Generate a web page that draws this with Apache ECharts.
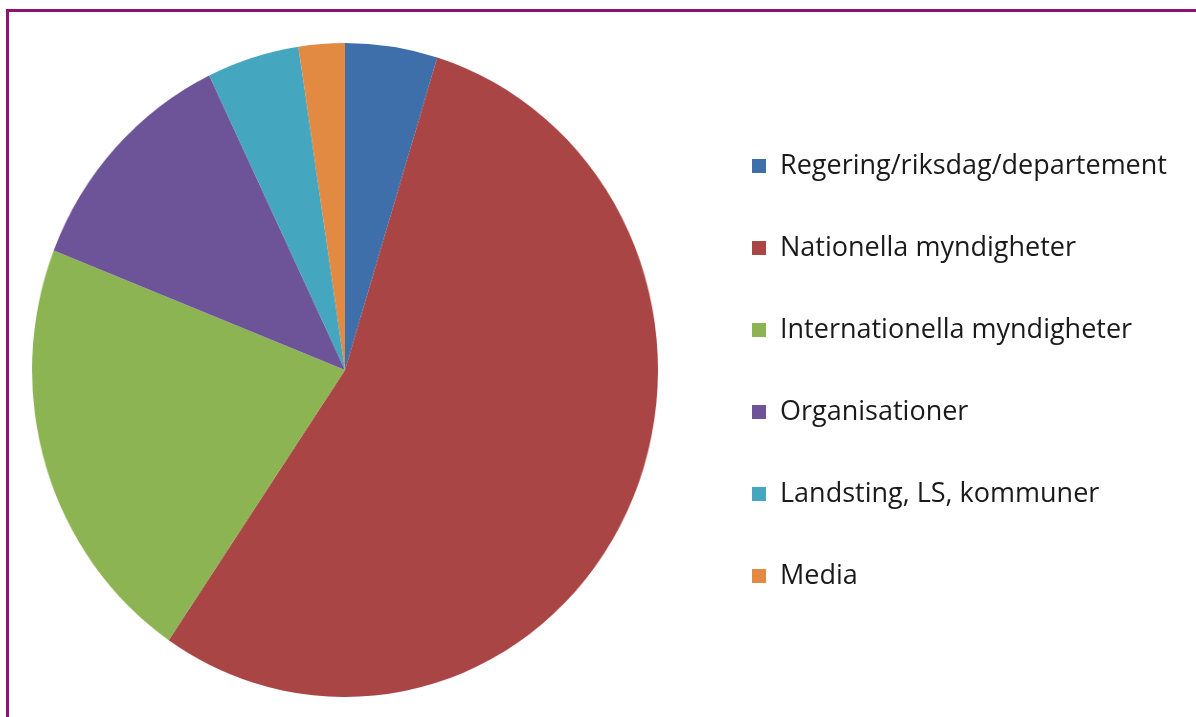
<!DOCTYPE html>
<html>
<head>
<meta charset="utf-8">
<script src="https://cdn.jsdelivr.net/npm/echarts@6/dist/echarts.min.js"></script>
<style>
html,body{margin:0;padding:0;background:#fff;}
#wrap{position:relative;width:1196px;height:717px;overflow:hidden;}
#pie{position:absolute;left:0;top:0;width:1196px;height:717px;transform:scaleX(0.957);transform-origin:345px 370px;}
#main{position:absolute;left:0;top:0;width:1196px;height:717px;}
</style>
</head>
<body>
<div id="wrap">
<div id="pie"></div>
<div id="main"></div>
</div>
<script>
const categories = ["Regering/riksdag/departement","Nationella myndigheter","Internationella myndigheter","Organisationer","Landsting, LS, kommuner","Media"];
const values = [2, 23, 9, 5, 2, 1];
const colors = ["#3F6FAA","#A94544","#8DB453","#6D5499","#45A6BF","#E38A42"];

const pieData = categories.map((c, i) => ({name: c, value: values[i]}));

const pieChart = echarts.init(document.getElementById('pie'));
pieChart.setOption({
  animation: false,
  backgroundColor: '#ffffff',
  color: colors,
  series: [{
    type: 'pie',
    center: [345, 370],
    radius: 327,
    startAngle: 90,
    clockwise: true,
    label: {show: false},
    labelLine: {show: false},
    emphasis: {disabled: true},
    data: pieData
  }]
});

const mainChart = echarts.init(document.getElementById('main'));
mainChart.setOption({
  animation: false,
  backgroundColor: 'transparent',
  color: colors,
  graphic: [{
    type: 'rect',
    shape: {x: 7.5, y: 10.5, width: 1300, height: 800},
    style: {fill: 'none', stroke: '#8C1470', lineWidth: 3},
    z: 100
  }],
  legend: {
    orient: 'vertical',
    left: 747,
    top: 147,
    itemWidth: 14,
    itemHeight: 14,
    itemGap: 54,
    icon: 'rect',
    textStyle: {fontFamily: 'Open Sans', fontSize: 27, color: '#1a1a1a', lineHeight: 28, padding: [0, 0, 0, 9]},
    data: categories
  },
  series: [{
    type: 'pie',
    center: [-50, -50],
    radius: 0,
    silent: true,
    label: {show: false},
    labelLine: {show: false},
    data: pieData
  }]
});
</script>
</body>
</html>
